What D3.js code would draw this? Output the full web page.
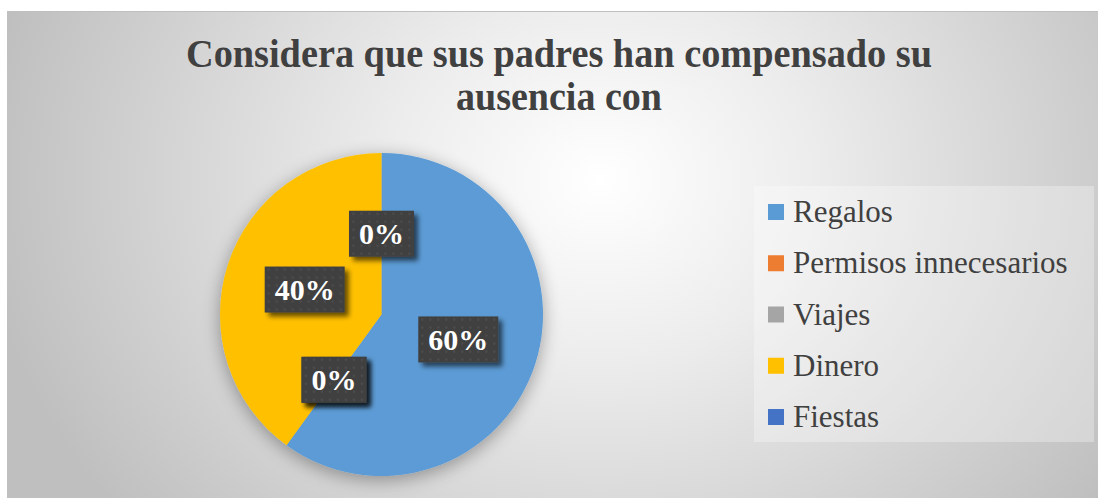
<!DOCTYPE html>
<html>
<head>
<meta charset="utf-8">
<style>
    body { margin: 0; background: #fff; }
    svg { display: block; }
</style>
</head>
<body>
<svg width="1098" height="498"></svg>
<script src="https://d3js.org/d3.v7.min.js"></script>
<script>
    let categories = ["Regalos", "Permisos innecesarios", "Viajes", "Dinero", "Fiestas"];
    let values = [60, 0, 0, 40, 0];
    let colors = ["#5b9bd5", "#ed7d31", "#a5a5a5", "#ffc000", "#4472c4"];
    let titleLines = ["Considera que sus padres han compensado su", "ausencia con"];

    let serif = '"Liberation Serif", "Times New Roman", serif';
    let svg = d3.select("svg");
    let defs = svg.append("defs");

    // chart area background
    let grad = defs.append("radialGradient")
        .attr("id", "bg")
        .attr("gradientUnits", "userSpaceOnUse")
        .attr("cx", 600).attr("cy", 180).attr("r", 620)
        .attr("gradientTransform", "translate(600,180) scale(1,0.85) translate(-600,-180)");
    grad.append("stop").attr("offset", "0").attr("stop-color", "#ffffff");
    grad.append("stop").attr("offset", "0.35").attr("stop-color", "#ececec");
    grad.append("stop").attr("offset", "1").attr("stop-color", "#bfbfbf");

    let shadow = defs.append("filter").attr("id", "pieShadow")
        .attr("x", "-30%").attr("y", "-30%").attr("width", "160%").attr("height", "160%");
    shadow.append("feGaussianBlur").attr("in", "SourceAlpha").attr("stdDeviation", 9).attr("result", "b");
    shadow.append("feOffset").attr("in", "b").attr("dx", 0).attr("dy", 4).attr("result", "o");
    shadow.append("feComponentTransfer").attr("in", "o").attr("result", "s")
        .append("feFuncA").attr("type", "linear").attr("slope", 0.35);
    let m1 = shadow.append("feMerge");
    m1.append("feMergeNode").attr("in", "s");
    m1.append("feMergeNode").attr("in", "SourceGraphic");

    let boxShadow = defs.append("filter").attr("id", "boxShadow")
        .attr("x", "-30%").attr("y", "-30%").attr("width", "160%").attr("height", "160%");
    boxShadow.append("feGaussianBlur").attr("in", "SourceAlpha").attr("stdDeviation", 2.5).attr("result", "b");
    boxShadow.append("feOffset").attr("in", "b").attr("dx", 4).attr("dy", 4).attr("result", "o");
    boxShadow.append("feComponentTransfer").attr("in", "o").attr("result", "s")
        .append("feFuncA").attr("type", "linear").attr("slope", 0.6);
    let m2 = boxShadow.append("feMerge");
    m2.append("feMergeNode").attr("in", "s");
    m2.append("feMergeNode").attr("in", "SourceGraphic");

    let dots = defs.append("pattern").attr("id", "dots")
        .attr("patternUnits", "userSpaceOnUse").attr("width", 8).attr("height", 8);
    dots.append("rect").attr("width", 8).attr("height", 8).attr("fill", "#404040");
    dots.append("circle").attr("cx", 4).attr("cy", 4).attr("r", 1.3).attr("fill", "#4c4c4c");

    svg.append("rect")
        .attr("x", 7).attr("y", 11).attr("width", 1091).attr("height", 487)
        .attr("fill", "url(#bg)");
    svg.append("line")
        .attr("x1", 7).attr("x2", 1098).attr("y1", 11.5).attr("y2", 11.5)
        .style("stroke", "#bfbfbf").style("stroke-width", "1px");

    // title
    let title = svg.append("text")
        .attr("text-anchor", "middle")
        .style("font-family", serif).style("font-weight", "bold")
        .style("fill", "#404040").style("font-size", "40px");
    title.append("tspan").attr("x", 559).attr("y", 67)
        .attr("textLength", 746).attr("lengthAdjust", "spacingAndGlyphs").text(titleLines[0]);
    title.append("tspan").attr("x", 559).attr("y", 110)
        .attr("textLength", 206).attr("lengthAdjust", "spacingAndGlyphs").text(titleLines[1]);

    // pie
    let cx = 381.5, cy = 314.5, r = 161.5;
    let data = categories.map((c, i) => ({ name: c, value: values[i], color: colors[i] }));
    let pie = d3.pie().sort(null).value(d => d.value);
    let arcs = pie(data);
    let arc = d3.arc().innerRadius(0).outerRadius(r);

    let g = svg.append("g").attr("transform", `translate(${cx},${cy})`);
    g.append("g").attr("filter", "url(#pieShadow)")
        .selectAll("path")
        .data(arcs.filter(d => d.value > 0))
        .join("path")
        .attr("d", arc)
        .attr("fill", d => d.data.color);

    // data labels (one per slice; the two zero slices at the same angle overlap)
    let lbl = g.append("g")
        .selectAll("g")
        .data(arcs)
        .join("g")
        .attr("transform", d => `translate(${arc.centroid(d)})`);
    lbl.append("text")
        .attr("text-anchor", "middle")
        .attr("dy", "0.35em")
        .style("font-family", serif).style("font-weight", "bold")
        .style("fill", "#ffffff").style("font-size", "30px")
        .text(d => d.data.value + "%");
    lbl.each(function () {
        let gg = d3.select(this);
        let bb = gg.select("text").node().getBBox();
        gg.insert("rect", "text")
            .attr("x", -bb.width / 2 - 10).attr("y", -23)
            .attr("width", bb.width + 20).attr("height", 46)
            .attr("fill", "url(#dots)")
            .attr("filter", "url(#boxShadow)");
    });

    // legend
    let legend = svg.append("g");
    legend.append("rect")
        .attr("x", 754).attr("y", 186).attr("width", 340).attr("height", 256)
        .attr("fill", "#ffffff").attr("fill-opacity", 0.3);
    let ly = d3.scalePoint().domain(categories).range([212, 417]);
    let items = legend.selectAll("g.item")
        .data(data)
        .join("g")
        .attr("class", "item")
        .attr("transform", d => `translate(768,${ly(d.name)})`);
    items.append("rect")
        .attr("x", 0).attr("y", -8).attr("width", 16).attr("height", 16)
        .attr("fill", d => d.color);
    items.append("text")
        .attr("x", 25).attr("y", 10)
        .style("font-family", serif).style("fill", "#404040").style("font-size", "31px")
        .text(d => d.name);
</script>
</body>
</html>
